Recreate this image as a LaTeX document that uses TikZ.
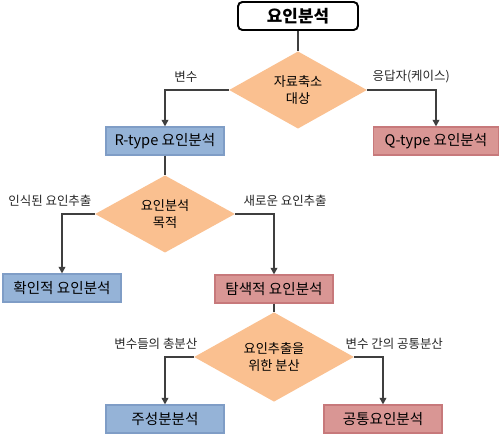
\documentclass[tikz,border=0pt]{standalone}
\usepackage{fontspec}
\setmainfont{Noto Sans CJK KR}
\usepackage{xcolor}
\definecolor{BoxBlue}{HTML}{95B3D7}
\definecolor{BoxBlueLine}{HTML}{7F9DC6}
\definecolor{BoxRed}{HTML}{D99694}
\definecolor{BoxRedLine}{HTML}{C7797B}
\definecolor{DecOrange}{HTML}{FAC090}
\definecolor{FlowGray}{HTML}{3F3F3F}
\usepackage{tikz}
\usetikzlibrary{arrows.meta, shapes.geometric}

\tikzset{
  bluebox/.style={draw=BoxBlueLine, fill=BoxBlue, line width=0.6pt, minimum width=2.36cm, minimum height=0.56cm, inner sep=0pt, font=\fontsize{8.3}{9}\selectfont},
  redbox/.style={bluebox, draw=BoxRedLine, fill=BoxRed},
  decide/.style={diamond, fill=DecOrange, inner sep=0pt, align=center, font=\fontsize{7.5}{9.6}\selectfont},
  flow/.style={draw=FlowGray, line width=1.4pt, -{Triangle[length=3.8pt,width=3.8pt]}},
  link/.style={draw=FlowGray, line width=1.4pt},
  lbl/.style={inner sep=0pt, yshift=3.3pt, font=\fontsize{7.1}{8}\selectfont, text=black!85}
}

\begin{document}
\begin{tikzpicture}[x=0.02cm, y=-0.02cm]
  \useasboundingbox (0,0) rectangle (500,438);
  \node[draw=black, line width=1.1pt, rounded corners=2.5pt, fill=white, minimum width=2.4cm, minimum height=0.56cm, font=\fontsize{9.6}{10}\selectfont\bfseries] (top) at (298,16) {요인분석};
  \node[decide, minimum width=2.76cm, minimum height=1.28cm] (d1) at (298,90) {자료축소\\대상};
  \node[bluebox] (rtype) at (165,141) {R-type 요인분석};
  \node[redbox, minimum width=2.5cm] (qtype) at (436,141) {Q-type 요인분석};
  \node[decide, minimum width=2.8cm, minimum height=1.28cm] (d2) at (165,214) {요인분석\\목적};
  \node[bluebox] (conf) at (62,288) {확인적 요인분석};
  \node[redbox] (expl) at (274,289) {탐색적 요인분석};
  \node[decide, minimum width=3.2cm, minimum height=1.3cm] (d3) at (274,357) {요인추출을\\위한 분산};
  \node[bluebox] (pca) at (165,419) {주성분분석};
  \node[redbox] (cfa) at (383,419) {공통요인분석};

  \draw[link] (top) -- (d1);
  \draw[flow] (d1.west) node[lbl, anchor=south east, xshift=-0.6cm] {변수} -| (rtype.north);
  \draw[flow] (d1.east) node[lbl, anchor=south west, xshift=0.08cm] {응답자(케이스)} -| (qtype.north);
  \draw[link] (rtype) -- (d2);
  \draw[flow] (d2.west) node[lbl, anchor=south east, xshift=-0.04cm] {인식된 요인추출} -| (conf.north);
  \draw[flow] (d2.east) node[lbl, anchor=south west, xshift=0.14cm] {새로운 요인추출} -| (expl.north);
  \draw[link] (expl) -- (d3);
  \draw[flow] (d3.west) node[lbl, anchor=south east, xshift=0.1cm] {변수들의 총분산} -| (pca.north);
  \draw[flow] (d3.east) node[lbl, anchor=south west, xshift=-0.2cm] {변수 간의 공통분산} -| (cfa.north);
\end{tikzpicture}
\end{document}
